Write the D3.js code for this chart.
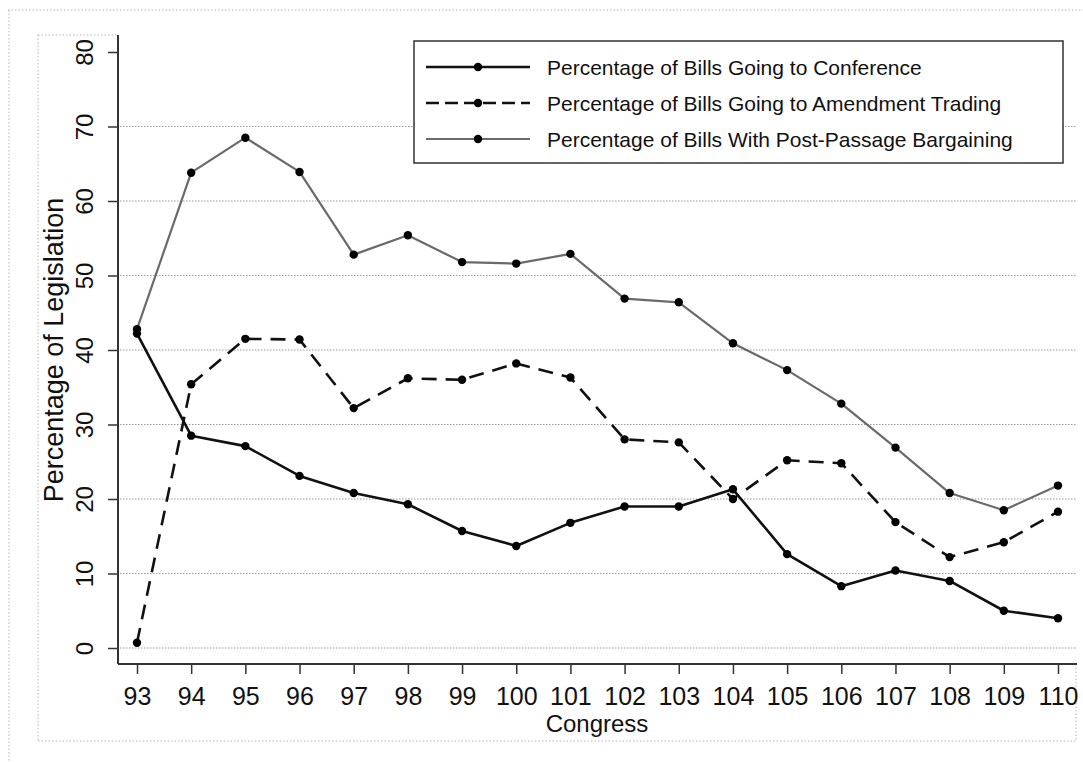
<!DOCTYPE html>
<html>
<head>
<meta charset="utf-8">
<script src="https://cdn.jsdelivr.net/npm/d3@7"></script>
<style>
  html, body { margin: 0; padding: 0; background: #fff; }
  svg { display: block; font-family: "Liberation Sans", Arial, sans-serif; }
</style>
</head>
<body>
<svg id="chart" width="1083" height="762"></svg>
<script>
// ---- data ----
const congress = [93, 94, 95, 96, 97, 98, 99, 100, 101, 102, 103, 104, 105, 106, 107, 108, 109, 110];
const conference = [42.2, 28.5, 27.1, 23.1, 20.8, 19.3, 15.7, 13.7, 16.8, 19.0, 19.0, 21.3, 12.6, 8.3, 10.4, 9.0, 5.0, 4.0];
const amendment = [0.7, 35.4, 41.5, 41.4, 32.2, 36.2, 36.0, 38.2, 36.3, 28.0, 27.6, 20.0, 25.2, 24.8, 16.9, 12.2, 14.2, 18.3];
const postPassage = [42.8, 63.8, 68.5, 63.9, 52.8, 55.4, 51.8, 51.6, 52.9, 46.9, 46.4, 40.9, 37.3, 32.8, 26.9, 20.8, 18.5, 21.8];
const yTicks = [0, 10, 20, 30, 40, 50, 60, 70, 80];
const gridValues = [0, 10, 20, 30, 40, 50, 60, 70];
const seriesNames = [
  "Percentage of Bills Going to Conference",
  "Percentage of Bills Going to Amendment Trading",
  "Percentage of Bills With Post-Passage Bargaining"
];
const xTitle = "Congress";
const yTitle = "Percentage of Legislation";

// ---- layout ----
const svg = d3.select("#chart");
const axisX = 118, axisY = 664, plotRight = 1077, plotTop = 35;
const x = d3.scaleLinear().domain([93, 110]).range([137, 1058]);
const y = d3.scaleLinear().domain([0, 80]).range([648, 52]);

const series = [
  { name: seriesNames[0], values: conference, color: "#111", width: 2.6, dash: null },
  { name: seriesNames[1], values: amendment, color: "#111", width: 2.6, dash: "15,9" },
  { name: seriesNames[2], values: postPassage, color: "#6a6a6a", width: 2.2, dash: null }
];

// frames (dotted borders)
const frame = svg.append("g").attr("stroke", "#b5b5b5").attr("stroke-width", 1)
  .attr("stroke-dasharray", "1.5,2").attr("fill", "none");
frame.append("line").attr("x1", 8).attr("x2", 1083).attr("y1", 10).attr("y2", 10);
frame.append("line").attr("x1", 9).attr("x2", 9).attr("y1", 10).attr("y2", 762);
frame.append("line").attr("x1", 38).attr("x2", 118).attr("y1", 35).attr("y2", 35);
frame.append("line").attr("x1", 38).attr("x2", 38).attr("y1", 35).attr("y2", 741);
frame.append("line").attr("x1", 38).attr("x2", 1076).attr("y1", 741).attr("y2", 741);
frame.append("line").attr("x1", 1076).attr("x2", 1076).attr("y1", 668).attr("y2", 741);

// gridlines
svg.append("g").selectAll("line").data(gridValues).join("line")
  .attr("x1", axisX + 2).attr("x2", plotRight)
  .attr("y1", d => y(d)).attr("y2", d => y(d))
  .attr("stroke", "#9a9a9a").attr("stroke-width", 1.2).attr("stroke-dasharray", "1.5,1.5");

// lines
const line = d3.line().x((d, i) => x(congress[i])).y(d => y(d));
series.forEach(s => {
  svg.append("path").datum(s.values)
    .attr("d", line)
    .attr("fill", "none")
    .attr("stroke", s.color)
    .attr("stroke-width", s.width)
    .attr("stroke-dasharray", s.dash)
    .attr("stroke-linejoin", "round");
});
series.forEach(s => {
  svg.append("g").selectAll("circle").data(s.values).join("circle")
    .attr("cx", (d, i) => x(congress[i]))
    .attr("cy", d => y(d))
    .attr("r", 4.2)
    .attr("fill", "#000");
});

// y axis
const yAxis = d3.axisLeft(y).tickValues(yTicks).tickSize(10).tickSizeOuter(0).tickPadding(0);
const gy = svg.append("g").attr("transform", `translate(${axisX},0)`).call(yAxis);
gy.select(".domain").remove();
gy.selectAll(".tick line").attr("stroke", "#333").attr("stroke-width", 1.5);
gy.selectAll(".tick text")
  .attr("transform", "rotate(-90)")
  .attr("x", 0).attr("y", -25).attr("dy", 0)
  .attr("text-anchor", "middle")
  .attr("font-size", 24).attr("fill", "#111");
svg.append("line").attr("x1", axisX).attr("x2", axisX).attr("y1", plotTop).attr("y2", axisY)
  .attr("stroke", "#333").attr("stroke-width", 2);

// x axis
const xAxis = d3.axisBottom(x).tickValues(congress).tickFormat(d3.format("d"))
  .tickSize(10).tickSizeOuter(0).tickPadding(0);
const gx = svg.append("g").attr("transform", `translate(0,${axisY})`).call(xAxis);
gx.select(".domain").remove();
gx.selectAll(".tick line").attr("stroke", "#333").attr("stroke-width", 1.5);
gx.selectAll(".tick text").attr("y", 41).attr("dy", 0)
  .attr("font-size", 25).attr("fill", "#111");
svg.append("line").attr("x1", axisX).attr("x2", plotRight).attr("y1", axisY).attr("y2", axisY)
  .attr("stroke", "#333").attr("stroke-width", 2);

// axis titles
svg.append("text").attr("x", 597).attr("y", 732).attr("text-anchor", "middle")
  .attr("font-size", 24).attr("fill", "#111").text(xTitle);
svg.append("text").attr("transform", "translate(63,350) rotate(-90)")
  .attr("text-anchor", "middle").attr("font-size", 27).attr("fill", "#111").text(yTitle);

// legend
const lg = svg.append("g");
lg.append("rect").attr("x", 414).attr("y", 41).attr("width", 649).attr("height", 122)
  .attr("fill", "#fff").attr("stroke", "#333").attr("stroke-width", 1.5);
series.forEach((s, i) => {
  const ry = 67 + i * 36;
  lg.append("line").attr("x1", 426).attr("x2", 530).attr("y1", ry).attr("y2", ry)
    .attr("stroke", s.color).attr("stroke-width", s.width)
    .attr("stroke-dasharray", s.dash ? "13,6" : null);
  lg.append("circle").attr("cx", 478).attr("cy", ry).attr("r", 4.2).attr("fill", "#000");
  lg.append("text").attr("x", 547).attr("y", ry + 8).attr("font-size", 21)
    .attr("fill", "#111").text(s.name);
});
</script>
</body>
</html>
